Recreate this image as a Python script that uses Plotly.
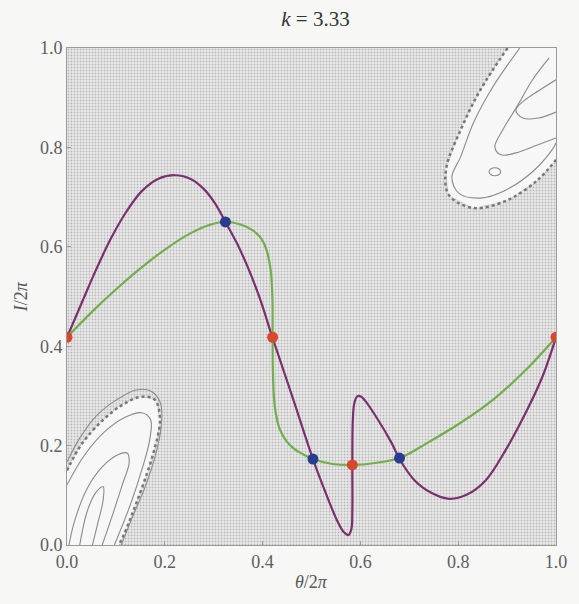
import plotly.graph_objects as go

# ---- data ----
purple_x = [0.000, 0.030, 0.060, 0.090, 0.121, 0.153, 0.187, 0.221, 0.254, 0.280, 0.303, 0.324,
            0.346, 0.368, 0.394, 0.420, 0.463, 0.503, 0.529, 0.552, 0.566, 0.5755, 0.5815, 0.5835,
            0.5835, 0.5845, 0.5875, 0.5935, 0.6010, 0.6100, 0.636, 0.664, 0.680, 0.710, 0.745, 0.781,
            0.817, 0.857, 0.897, 0.938, 0.972, 1.000]
purple_y = [0.418, 0.487, 0.555, 0.617, 0.670, 0.712, 0.737, 0.744, 0.736, 0.716, 0.687, 0.650,
            0.610, 0.563, 0.497, 0.418, 0.292, 0.173, 0.105, 0.050, 0.026, 0.020, 0.032, 0.070,
            0.160, 0.250, 0.285, 0.299, 0.299, 0.290, 0.252, 0.205, 0.173, 0.131, 0.105, 0.093,
            0.101, 0.131, 0.191, 0.266, 0.338, 0.418]

green_x = [0.000, 0.052, 0.101, 0.147, 0.201, 0.254, 0.294, 0.324, 0.355, 0.380, 0.397, 0.408,
           0.4165, 0.4200, 0.4205, 0.4210, 0.4230, 0.4275, 0.4355, 0.4487, 0.4640, 0.482, 0.503, 0.543,
           0.5835, 0.630, 0.680, 0.736, 0.805, 0.871, 0.938, 1.000]
green_y = [0.418, 0.470, 0.515, 0.554, 0.595, 0.628, 0.645, 0.650, 0.645, 0.633, 0.617, 0.594,
           0.553, 0.500, 0.418, 0.352, 0.300, 0.262, 0.232, 0.209, 0.194, 0.183, 0.173, 0.163,
           0.161, 0.165, 0.175, 0.205, 0.246, 0.292, 0.352, 0.418]

red_x = [0.000, 0.4205, 0.5835, 1.000]
red_y = [0.418, 0.418, 0.161, 0.418]
blue_x = [0.324, 0.503, 0.680]
blue_y = [0.650, 0.173, 0.175]

# chaotic sea extent (whole cell)
sea_x = [0, 1, 1, 0, 0]
sea_y = [0, 0, 1, 1, 0]

# island near the lower-left corner
ll_band_x = [0.000, 0.030, 0.070, 0.110, 0.150, 0.180, 0.190, 0.178, 0.158, 0.137, 0.117, 0.106]
ll_band_y = [0.150, 0.203, 0.248, 0.280, 0.298, 0.292, 0.250, 0.190, 0.128, 0.072, 0.022, 0.000]
ll_a_x = [0.000, 0.026, 0.060, 0.101, 0.141, 0.171, 0.191, 0.193, 0.181, 0.159, 0.133, 0.111]
ll_a_y = [0.167, 0.215, 0.260, 0.292, 0.312, 0.310, 0.286, 0.241, 0.181, 0.115, 0.054, 0.000]
ll_b_x = [0.000, 0.036, 0.076, 0.117, 0.153, 0.171, 0.169, 0.153, 0.131, 0.107, 0.097]
ll_b_y = [0.121, 0.181, 0.227, 0.256, 0.266, 0.252, 0.211, 0.151, 0.085, 0.024, 0.000]
ll_c_x = [0.004, 0.016, 0.042, 0.072, 0.103, 0.123, 0.127, 0.113, 0.093, 0.072]
ll_c_y = [0.000, 0.050, 0.115, 0.157, 0.181, 0.185, 0.165, 0.121, 0.060, 0.000]
ll_d_x = [0.026, 0.042, 0.060, 0.074, 0.074, 0.062, 0.052]
ll_d_y = [0.000, 0.070, 0.107, 0.117, 0.091, 0.040, 0.000]

# island near the upper-right corner
ur_band_x = [0.901, 0.845, 0.805, 0.775, 0.781, 0.831, 0.901, 0.962, 1.000]
ur_band_y = [1.000, 0.915, 0.835, 0.755, 0.704, 0.678, 0.694, 0.734, 0.775]
ur_a_x = [0.926, 0.871, 0.831, 0.805, 0.787, 0.801, 0.845, 0.897, 0.952, 0.992, 1.000]
ur_a_y = [1.000, 0.922, 0.849, 0.781, 0.740, 0.708, 0.698, 0.714, 0.751, 0.795, 0.809]
ur_b_x = [0.986, 0.952, 0.922, 0.891, 0.875, 0.887, 0.918, 0.962, 1.000]
ur_b_y = [0.980, 0.936, 0.885, 0.835, 0.801, 0.785, 0.789, 0.805, 0.819]
ur_c_x = [1.000, 0.966, 0.936, 0.918, 0.932, 0.964, 1.000]
ur_c_y = [0.936, 0.915, 0.895, 0.875, 0.859, 0.859, 0.871]
ur_loop_x = [0.863, 0.867, 0.875, 0.883, 0.887, 0.883, 0.875, 0.867, 0.863]
ur_loop_y = [0.751, 0.757, 0.759, 0.757, 0.751, 0.745, 0.743, 0.745, 0.751]

tick_vals = [0, 0.2, 0.4, 0.6, 0.8, 1.0]
tick_text = ["0.0", "0.2", "0.4", "0.6", "0.8", "1.0"]

PURPLE = "#7a2f6f"
GREEN = "#72ad4e"
RED = "#d8482c"
BLUE = "#283d8e"
CONTOUR = "#8a8a8a"
SERIF = "Liberation Serif"

fig = go.Figure()

# speckled chaotic sea
fig.add_trace(go.Scatter(x=sea_x, y=sea_y, mode="lines", fill="toself",
                         line=dict(width=0), fillcolor="#e6e6e6",
                         fillpattern=dict(shape=".", fgcolor="#8a8a8a", bgcolor="#e8e8e8",
                                          size=3, solidity=0.3),
                         hoverinfo="skip", showlegend=False))

# islands: white interiors
fig.add_trace(go.Scatter(x=ll_band_x + [0], y=ll_band_y + [0], mode="lines", fill="toself",
                         fillcolor="#f7f7f7", line=dict(width=0), hoverinfo="skip", showlegend=False))
fig.add_trace(go.Scatter(x=ur_band_x + [1], y=ur_band_y + [1], mode="lines", fill="toself",
                         fillcolor="#f7f7f7", line=dict(width=0), hoverinfo="skip", showlegend=False))

# dotted chains of small islands
for bx, by in [(ll_band_x, ll_band_y), (ur_band_x, ur_band_y)]:
    fig.add_trace(go.Scatter(x=bx, y=by, mode="lines", line=dict(color="#777", width=2.5, dash="dot",
                                                                   shape="spline"),
                             hoverinfo="skip", showlegend=False))

# invariant curves
for cx, cy in [(ll_a_x, ll_a_y), (ll_b_x, ll_b_y), (ll_c_x, ll_c_y), (ll_d_x, ll_d_y),
               (ur_a_x, ur_a_y), (ur_b_x, ur_b_y), (ur_c_x, ur_c_y), (ur_loop_x, ur_loop_y)]:
    fig.add_trace(go.Scatter(x=cx, y=cy, mode="lines", line=dict(color=CONTOUR, width=1.1, shape="spline"),
                             hoverinfo="skip", showlegend=False))

# manifolds
fig.add_trace(go.Scatter(x=purple_x, y=purple_y, mode="lines",
                         line=dict(color=PURPLE, width=2.2, shape="spline", smoothing=1.0),
                         showlegend=False))
fig.add_trace(go.Scatter(x=green_x, y=green_y, mode="lines",
                         line=dict(color=GREEN, width=2.2, shape="spline", smoothing=1.0),
                         showlegend=False))

fig.add_trace(go.Scatter(x=red_x, y=red_y, mode="markers", marker=dict(color=RED, size=11),
                         showlegend=False))
fig.add_trace(go.Scatter(x=blue_x, y=blue_y, mode="markers", marker=dict(color=BLUE, size=11),
                         showlegend=False))

axis_common = dict(range=[0, 1], tickvals=tick_vals, ticktext=tick_text, showgrid=False,
                   zeroline=False, showline=True, mirror=True, linecolor="#9a9a9a", linewidth=1,
                   ticks="inside", ticklen=4, tickcolor="#9a9a9a",
                   tickfont=dict(family=SERIF, size=18, color="#5e5e5e"))

fig.update_layout(
    width=579, height=604,
    margin=dict(l=67, r=15, t=48, b=59),
    paper_bgcolor="#f7f7f6",
    plot_bgcolor="#e9e9e9",
    font=dict(family=SERIF),
    xaxis=axis_common,
    yaxis=axis_common,
    title=dict(text="<i>k</i> = 3.33", x=(67 + 564) / 2 / 579, xanchor="center",
               y=1 - 19 / 604, yanchor="middle",
               font=dict(family=SERIF, size=21, color="#333333")),
    annotations=[
        dict(text="<i>θ</i>/2<i>π</i>", xref="paper", yref="paper", x=0.5, y=-37 / 497,
             xanchor="center", yanchor="middle", showarrow=False,
             font=dict(family=SERIF, size=18, color="#555555")),
        dict(text="<i>I</i>/2<i>π</i>", xref="paper", yref="paper", x=-47 / 497, y=0.5,
             xanchor="center", yanchor="middle", showarrow=False, textangle=-90,
             font=dict(family=SERIF, size=18, color="#555555")),
    ],
)

fig.write_html("out.html")
